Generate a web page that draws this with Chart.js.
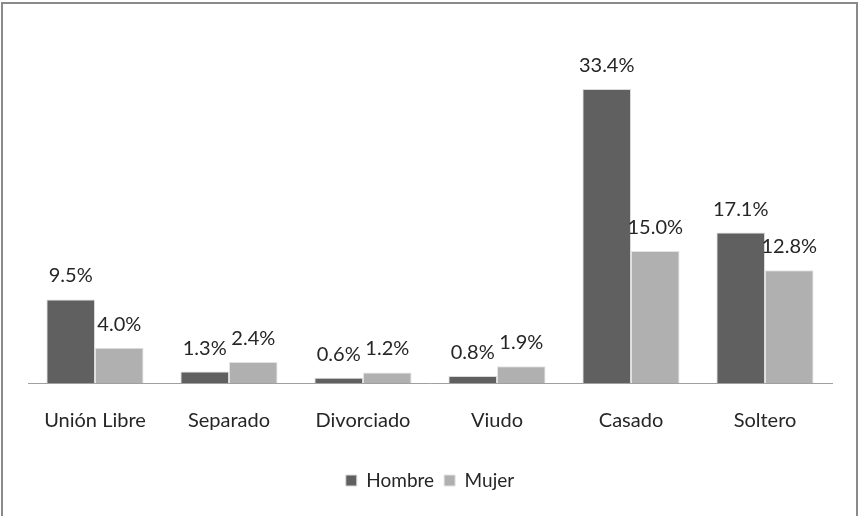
<!DOCTYPE html>
<html>
<head>
<meta charset="utf-8">
<script src="https://cdn.jsdelivr.net/npm/chart.js@4.4.1/dist/chart.umd.min.js"></script>
<style>
  html, body { margin: 0; padding: 0; background: #fff; }
  #wrap { position: relative; width: 858px; height: 516px; overflow: hidden; }
  #frame { position: absolute; left: 1px; top: 2px; width: 853px; height: 530px;
           border: 2px solid #8a8a8a; box-sizing: content-box; pointer-events: none; }
  canvas { position: absolute; left: 0; top: 0; }
</style>
</head>
<body>
<div id="wrap">
  <canvas id="c" width="858" height="516"></canvas>
  <div id="frame"></div>
</div>
<script>
const categories = ["Unión Libre", "Separado", "Divorciado", "Viudo", "Casado", "Soltero"];
const hombre = [9.5, 1.3, 0.6, 0.8, 33.4, 17.1];
const mujer = [4.0, 2.4, 1.2, 1.9, 15.0, 12.8];
const seriesNames = ["Hombre", "Mujer"];

const FONT = "Lato, 'Open Sans', sans-serif";

const valueLabels = {
  id: 'valueLabels',
  afterDatasetsDraw(chart) {
    const ctx = chart.ctx;
    ctx.save();
    ctx.font = "20px " + FONT;
    ctx.fillStyle = "#262626";
    ctx.textAlign = "center";
    ctx.textBaseline = "alphabetic";
    chart.data.datasets.forEach((ds, i) => {
      const meta = chart.getDatasetMeta(i);
      meta.data.forEach((el, j) => {
        ctx.fillText(ds.data[j].toFixed(1) + "%", el.x, el.y - 17);
      });
    });
    ctx.restore();
  }
};

new Chart(document.getElementById('c'), {
  type: 'bar',
  data: {
    labels: categories,
    datasets: [
      { label: seriesNames[0], data: hombre, backgroundColor: '#606060', borderColor: '#dadada', borderWidth: 1 },
      { label: seriesNames[1], data: mujer, backgroundColor: '#b0b0b0', borderColor: '#e2e2e2', borderWidth: 1 }
    ]
  },
  options: {
    responsive: false,
    animation: false,
    layout: { padding: { left: 28, right: 26, top: 31, bottom: 16 } },
    datasets: { bar: { categoryPercentage: 0.725, barPercentage: 1 } },
    scales: {
      x: {
        grid: { display: false, drawTicks: false },
        border: { display: true, color: '#a0a0a0', width: 1 },
        ticks: { color: '#262626', padding: 26, font: { family: FONT, size: 20 } },
        afterFit(scale) { scale.height = 78; }
      },
      y: { display: false, min: 0, max: 40 }
    },
    plugins: {
      legend: {
        position: 'bottom',
        labels: { color: '#262626', boxWidth: 11, boxHeight: 11, padding: 10, font: { family: FONT, size: 19 } }
      },
      tooltip: { enabled: false }
    }
  },
  plugins: [valueLabels]
});
</script>
</body>
</html>
